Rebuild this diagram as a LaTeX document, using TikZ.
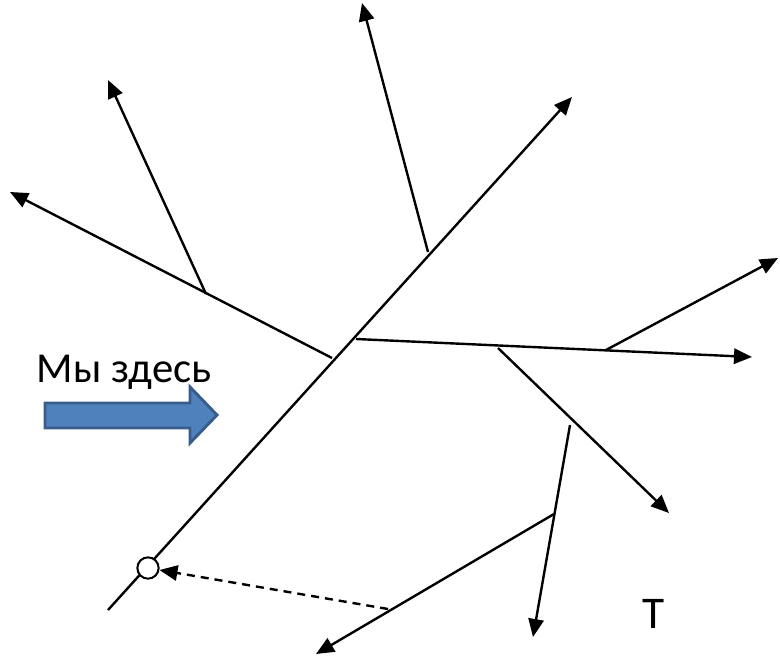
\documentclass[tikz,border=0pt]{standalone}
\usepackage{fontspec}
\setmainfont{Carlito}
\usetikzlibrary{arrows.meta}
\definecolor{arrfill}{RGB}{79,129,189}
\definecolor{arrdraw}{RGB}{56,93,138}
\tikzset{
  branch/.style={line width=1.8pt, -{Triangle[length=13.5pt,width=11.5pt]}},
  dashlink/.style={line width=1.8pt, dash pattern=on 6pt off 4.5pt, -{Triangle[length=13.5pt,width=11.5pt]}},
  startpt/.style={circle, draw, line width=1.5pt, fill=white, inner sep=0pt, minimum size=16pt},
  bigarrow/.style={fill=arrfill, draw=arrdraw, line width=2.2pt, line join=miter}
}
\begin{document}
\begin{tikzpicture}[x=0.75pt,y=-0.75pt]
\useasboundingbox (0,0) rectangle (780,657);
% coordinates
\coordinate (t0) at (108,610);
\coordinate (ttip) at (572,97);
\coordinate (j1) at (332,358);
\coordinate (jh) at (356,339);
\coordinate (j3) at (428,252);
\coordinate (ltip) at (10,192);
\coordinate (s1) at (206,294);
\coordinate (s1tip) at (108,80);
\coordinate (uptip) at (362,3);
\coordinate (htip) at (752,357);
\coordinate (s2) at (606,350);
\coordinate (s2tip) at (778,258);
\coordinate (dr) at (498,348);
\coordinate (drtip) at (669,513);
\coordinate (b0) at (570,425);
\coordinate (btip) at (533,637);
\coordinate (b1) at (554,514);
\coordinate (b1tip) at (316,654);
\coordinate (dstart) at (388,609);
% trunk
\draw[branch] (t0) -- (ttip);
\node[startpt] (start) at (148,568) {};
% branches
\draw[branch] (j1) -- (ltip);
\draw[branch] (s1) -- (s1tip);
\draw[branch] (j3) -- (uptip);
\draw[branch] (jh) -- (htip);
\draw[branch] (s2) -- (s2tip);
\draw[branch] (dr) -- (drtip);
\draw[branch] (b0) -- (btip);
\draw[branch] (b1) -- (b1tip);
\draw[dashlink] (dstart) -- (start);
% labels
\node[font=\fontsize{32pt}{38pt}\selectfont, inner sep=0pt] (here) at (124,372) {Мы здесь};
\node[font=\fontsize{34pt}{40pt}\selectfont, inner sep=0pt] (tlabel) at (654,614) {Т};
% blue arrow
\draw[bigarrow] (45,403) -- (190,403) -- (190,387) -- (217,415) -- (190,443) -- (190,428) -- (45,428) -- cycle;
\end{tikzpicture}
\end{document}
